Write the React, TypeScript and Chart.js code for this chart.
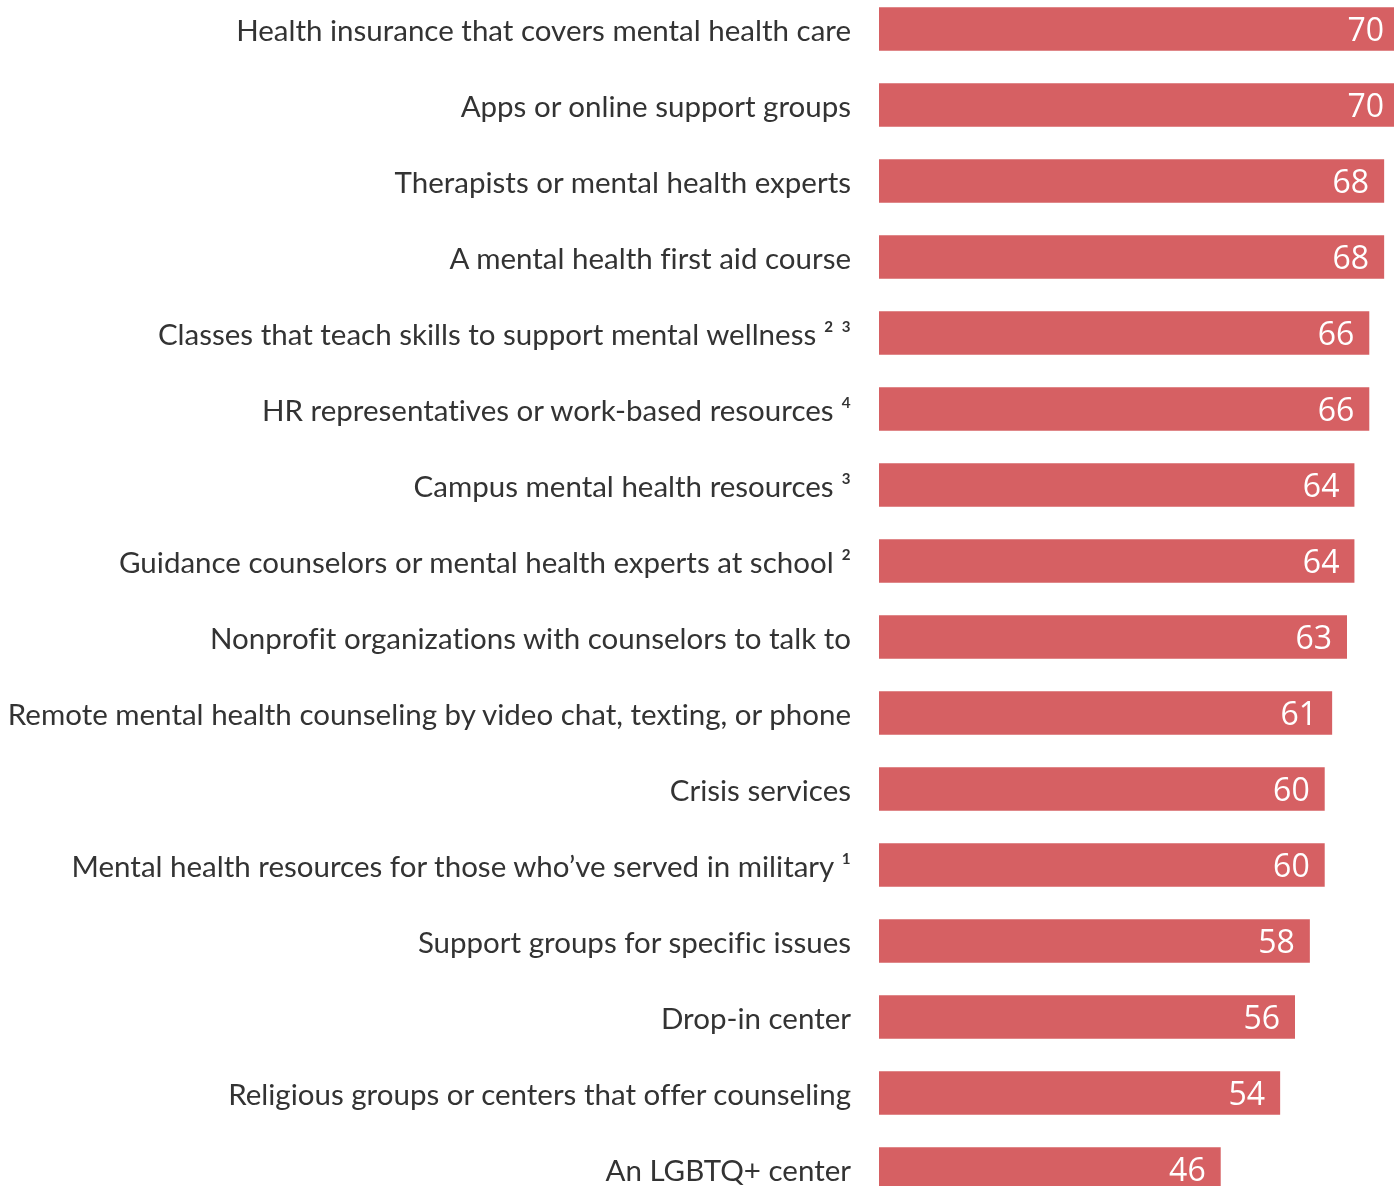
import React, { useEffect, useRef } from "react";
import { Chart, registerables } from "chart.js";

Chart.register(...registerables);

const categories: string[] = [
  "Health insurance that covers mental health care",
  "Apps or online support groups",
  "Therapists or mental health experts",
  "A mental health first aid course",
  "Classes that teach skills to support mental wellness ² ³",
  "HR representatives or work-based resources ⁴",
  "Campus mental health resources ³",
  "Guidance counselors or mental health experts at school ²",
  "Nonprofit organizations with counselors to talk to",
  "Remote mental health counseling by video chat, texting, or phone",
  "Crisis services",
  "Mental health resources for those who’ve served in military ¹",
  "Support groups for specific issues",
  "Drop-in center",
  "Religious groups or centers that offer counseling",
  "An LGBTQ+ center",
];

const values: number[] = [70, 70, 68, 68, 66, 66, 64, 64, 63, 61, 60, 60, 58, 56, 54, 46];

const xMin = 0;
const xMax = 70;

const noLigaturesPlugin = {
  id: "noLigatures",
  beforeDraw(chart: any) {
    const ctx = chart.ctx as any;
    ctx.textRendering = "optimizeSpeed";
    ctx.fontKerning = "normal";
  },
};

const valueLabelPlugin = {
  id: "valueLabels",
  afterDatasetsDraw(chart: any) {
    const ctx = chart.ctx;
    const meta = chart.getDatasetMeta(0);
    ctx.save();
    ctx.font = "32px 'Open Sans'";
    ctx.fillStyle = "#ffffff";
    ctx.textAlign = "right";
    ctx.textBaseline = "middle";
    meta.data.forEach((bar: any, i: number) => {
      ctx.fillText(String(values[i]), bar.x - 15, bar.y + 3);
    });
    ctx.restore();
  },
};

function BarChart() {
  const ref = useRef<HTMLCanvasElement | null>(null);
  useEffect(() => {
    document.documentElement.style.overflow = "hidden";
    document.body.style.overflow = "hidden";
    document.body.style.margin = "0";
    if (!ref.current) return;
    const chart = new Chart(ref.current, {
      type: "bar",
      data: {
        labels: categories,
        datasets: [
          {
            data: values,
            backgroundColor: "#d66063",
            borderWidth: 0,
            barPercentage: 0.571,
            categoryPercentage: 1,
          },
        ],
      },
      options: {
        indexAxis: "y",
        animation: false,
        responsive: false,
        maintainAspectRatio: false,
        layout: { padding: { left: 0, right: 1, top: 0, bottom: 0 } },
        plugins: {
          legend: { display: false },
          tooltip: { enabled: false },
        },
        scales: {
          x: {
            display: false,
            min: xMin,
            max: xMax,
          },
          y: {
            afterFit(scale: any) {
              scale.width = 879;
              scale.paddingTop = 0;
              scale.paddingBottom = 0;
            },
            grid: { display: false, drawTicks: false },
            border: { display: false },
            ticks: {
              autoSkip: false,
              padding: 28,
              labelOffset: 2,
              color: "#333333",
              font: { family: "Lato", size: 29.5 },
            },
          },
        },
      },
      plugins: [noLigaturesPlugin, valueLabelPlugin],
    });
    return () => chart.destroy();
  }, []);
  return (
    <div style={{ position: "absolute", left: 0, top: -9, width: 1400, height: 1216 }}>
      <canvas ref={ref} width={1400} height={1216} style={{ width: 1400, height: 1216 }} />
    </div>
  );
}

export default function App() {
  return <BarChart />;
}
